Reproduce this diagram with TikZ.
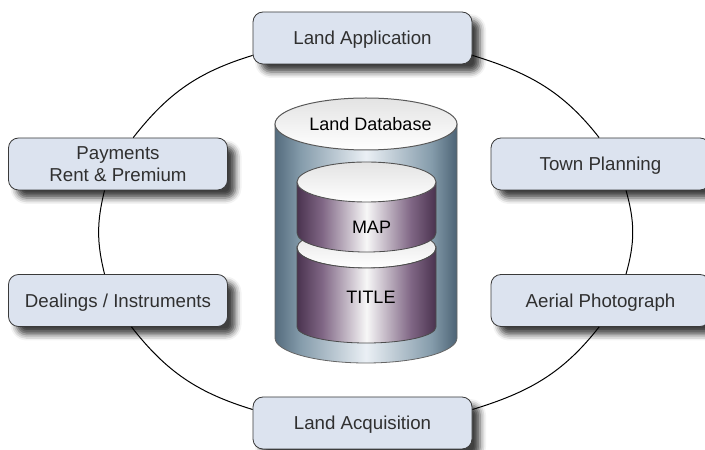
\documentclass[tikz,border=0pt]{standalone}
\usepackage{fontspec}
\setmainfont{Liberation Sans}
\usetikzlibrary{shadows.blur}
\definecolor{boxfill}{HTML}{DCE3EF}
\definecolor{boxline}{HTML}{3A3A3A}
\definecolor{labeltext}{HTML}{303030}
\pgfdeclarehorizontalshading{slatebody}{100bp}{rgb(0bp)=(.33,.42,.49);rgb(25bp)=(.33,.42,.49);
  rgb(32bp)=(.52,.61,.67);rgb(50bp)=(.92,.94,.96);rgb(68bp)=(.52,.61,.67);
  rgb(75bp)=(.30,.39,.46);rgb(100bp)=(.30,.39,.46)}
\pgfdeclarehorizontalshading{plumbody}{100bp}{rgb(0bp)=(.29,.20,.31);rgb(25bp)=(.29,.20,.31);
  rgb(34bp)=(.50,.40,.52);rgb(50bp)=(.97,.97,.97);rgb(66bp)=(.50,.40,.52);
  rgb(75bp)=(.29,.20,.31);rgb(100bp)=(.29,.20,.31)}
\tikzset{
  landbox/.style={draw=boxline, fill=boxfill, rounded corners=10pt, line width=.8pt,
    minimum width=219pt, minimum height=52pt, align=center, text=labeltext,
    font=\fontsize{18.7}{22}\selectfont, inner sep=0pt, text depth=0pt,
    blur shadow={shadow xshift=8pt, shadow yshift=-8pt, shadow blur radius=6pt, shadow opacity=75}},
  ring/.style={line width=1pt, black},
  dbtext/.style={font=\fontsize{18}{21}\selectfont, text=black, inner sep=0pt},
  dblid/.style={top color=gray!22, bottom color=white, draw=gray!65!black, line width=.9pt}
}
\begin{document}
\begin{tikzpicture}[x=1pt, y=1pt]
    \useasboundingbox (0,0) rectangle (705,450);

    \node[landbox] (app) at (362.5,412) {Land Application};
    \node[landbox] (town) at (600.5,286) {Town Planning};
    \node[landbox] (aerial) at (600.5,149.5) {Aerial Photograph};
    \node[landbox] (acq) at (362.5,27) {Land Acquisition};
    \node[landbox] (deal) at (118,149.5) {Dealings / Instruments};
    \node[landbox] (pay) at (118,286) {Payments\\Rent \& Premium};

    \draw[ring] (app.-9) to[out=-17, in=128] (town.93);
    \draw[ring] (town.-46) to[out=-74, in=74] (aerial.46);
    \draw[ring] (aerial.-93) to[out=-128, in=17] (acq.7);
    \draw[ring] (acq.173) to[out=163, in=-52] (deal.-63);
    \draw[ring] (deal.117) to[out=104, in=256] (pay.243);
    \draw[ring] (pay.60) to[out=52, in=197] (app.189);

    % outer cylinder
    \path[shading=slatebody, draw=gray!80!black, line width=.8pt] (275,326) -- (275,112)
        arc[start angle=180, end angle=360, x radius=91, y radius=25] -- (457,326) -- cycle;
    \path[dblid, draw=gray!70!black, line width=1pt] (366,326) ellipse[x radius=91, y radius=26];
    \node[dbtext] (db) at (370.5,326) {Land Database};

    % title cylinder, then map on top of it
    \path[dblid] (366.5,202) ellipse[x radius=69.5, y radius=20];
    \path[shading=plumbody, draw=gray!60!black, line width=.8pt] (297,202)
        arc[start angle=180, end angle=360, x radius=69.5, y radius=20] -- (436,123)
        arc[start angle=360, end angle=180, x radius=69.5, y radius=16] -- cycle;
    \node[dbtext] (title) at (371,153) {TITLE};

    \path[shading=plumbody, draw=gray!60!black, line width=.8pt] (297,268) -- (297,217)
        arc[start angle=180, end angle=360, x radius=69.5, y radius=19] -- (436,268) -- cycle;
    \path[dblid] (366.5,268) ellipse[x radius=69.5, y radius=20];
    \node[dbtext] (map) at (371.5,223) {MAP};
\end{tikzpicture}
\end{document}
